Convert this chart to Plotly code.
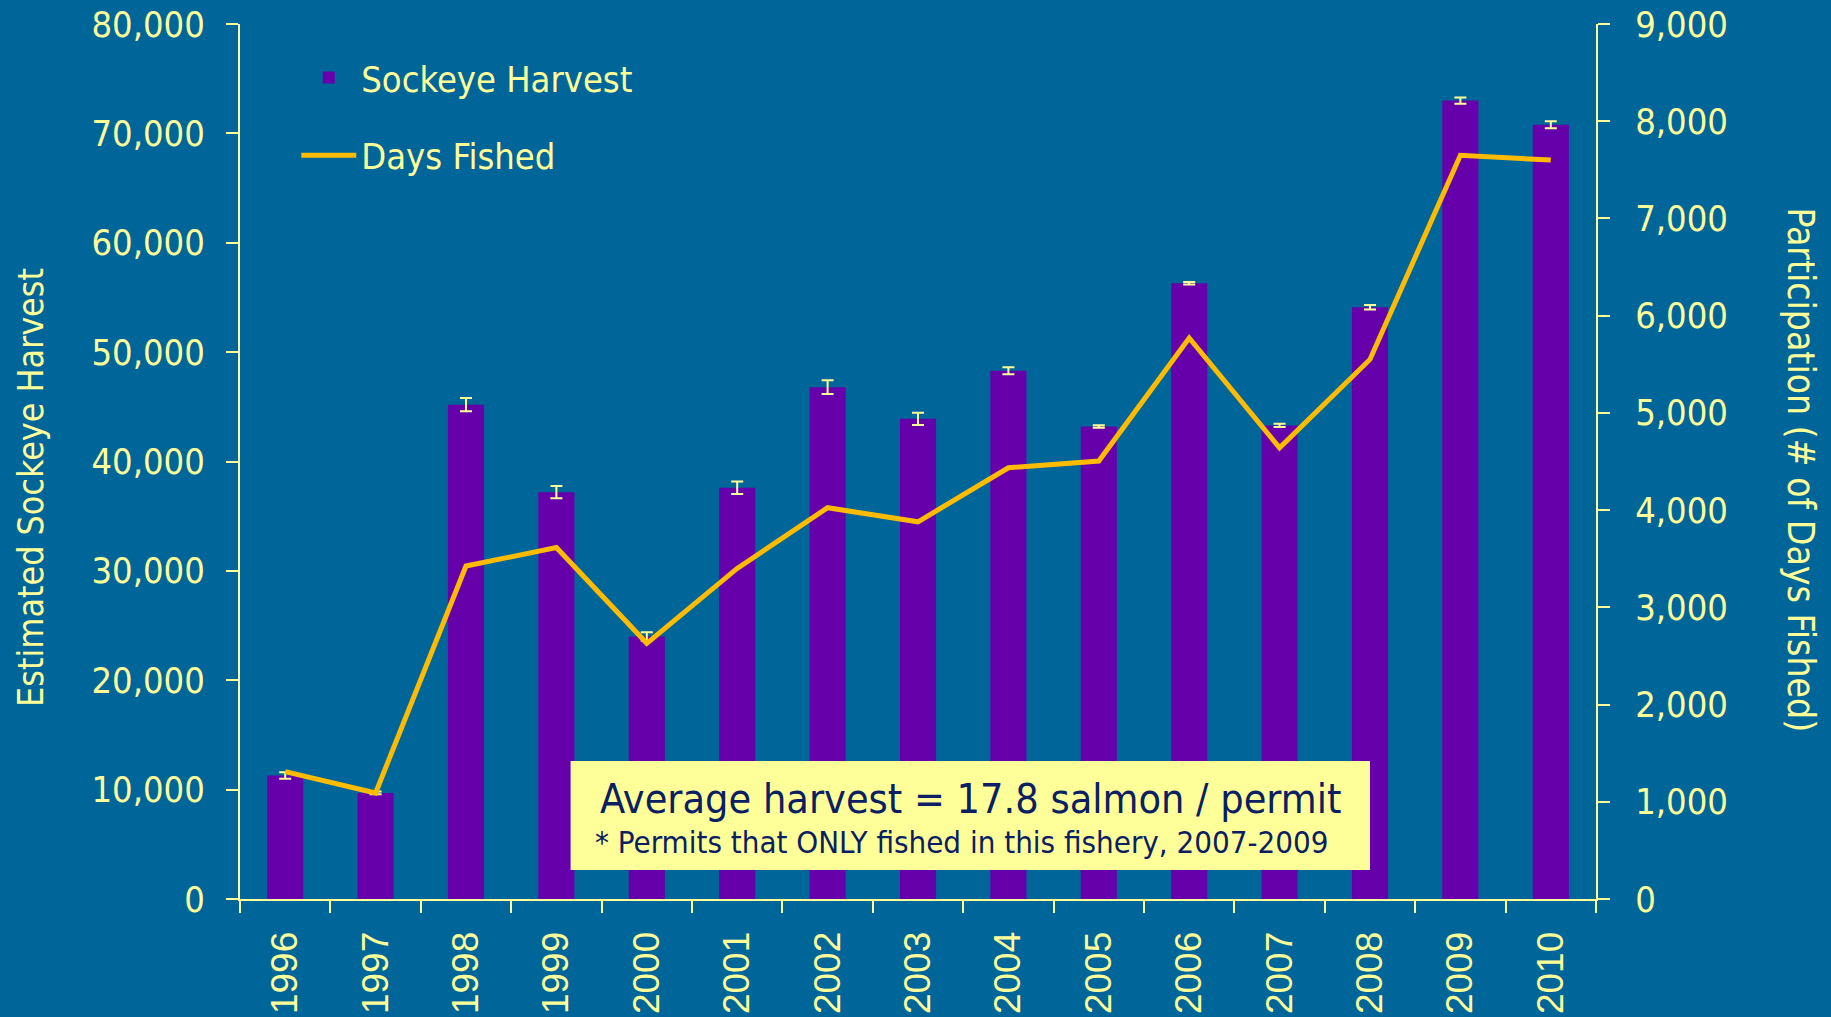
import plotly.graph_objects as go

years = ["1996", "1997", "1998", "1999", "2000", "2001", "2002", "2003",
         "2004", "2005", "2006", "2007", "2008", "2009", "2010"]
harvest = [11300, 9700, 45200, 37200, 24000, 37600, 46800, 43900,
           48300, 43200, 56300, 43300, 54100, 73000, 70800]
harvest_err = [300, 120, 600, 550, 380, 580, 620, 560,
               320, 120, 120, 150, 200, 280, 320]
days_fished = [1310, 1090, 3425, 3615, 2630, 3400, 4025, 3880,
               4435, 4505, 5770, 4640, 5550, 7650, 7600]

BG = "#006699"
TXT = "#FFFF99"
BAR = "#6600AA"
LINE = "#FFBB00"
FONT = "Tahoma, 'DejaVu Sans Condensed', 'DejaVu Sans', sans-serif"

fig = go.Figure()
fig.add_trace(go.Bar(
    x=years, y=harvest, name="Sockeye Harvest", marker_color=BAR,
    marker_line_width=0, legendgroup="a",
    error_y=dict(type="data", array=harvest_err, visible=True,
                 color=TXT, thickness=2, width=6),
))
fig.add_trace(go.Scatter(
    x=years, y=days_fished, name="Days Fished", mode="lines",
    line=dict(color=LINE, width=5), yaxis="y2", legendgroup="b",
))

axis_common = dict(showgrid=False, zeroline=False, showline=True,
                   linecolor=TXT, linewidth=2, ticks="outside",
                   ticklen=12, tickwidth=2, tickcolor=TXT,
                   automargin=False)
yfont = dict(family=FONT, size=36, color=TXT)

fig.update_layout(
    width=1831, height=1017,
    margin=dict(l=240, r=235, t=24, b=118),
    paper_bgcolor=BG, plot_bgcolor=BG,
    bargap=0.6,
    font=dict(family=FONT, color=TXT),
    xaxis=dict(type="category", tickson="boundaries", tickangle=-90,
               ticklabelstandoff=16, **axis_common,
               tickfont=dict(family="'Liberation Sans', Arial, sans-serif",
                             size=37, color=TXT)),
    yaxis=dict(range=[0, 80000], dtick=10000, tickformat=",",
               ticklabelstandoff=14, tickfont=yfont, **axis_common),
    yaxis2=dict(range=[0, 9000], dtick=1000, tickformat=",",
                overlaying="y", side="right", ticklabelstandoff=18,
                tickfont=yfont, **axis_common),
    legend=dict(x=0.0415, y=0.973, xanchor="left", yanchor="top",
                bgcolor="rgba(0,0,0,0)", itemwidth=55,
                tracegroupgap=28, traceorder="grouped",
                font=dict(family=FONT, size=36, color=TXT)),
    showlegend=True,
)

# axis titles
fig.add_annotation(text="Estimated Sockeye Harvest", xref="paper", yref="paper",
                   x=-0.154, y=0.47, textangle=-90, showarrow=False,
                   xanchor="center", yanchor="middle",
                   font=dict(family=FONT, size=35.5, color=TXT))
fig.add_annotation(text="Participation (# of Days Fished)", xref="paper", yref="paper",
                   x=1.151, y=0.49, textangle=90, showarrow=False,
                   xanchor="center", yanchor="middle",
                   font=dict(family=FONT, size=37, color=TXT))

# note box
fig.add_shape(type="rect", xref="paper", yref="paper",
              x0=0.2438, x1=0.8333, y0=0.0332, y1=0.1578,
              fillcolor="#FFFF99", line_width=0, layer="above")
fig.add_annotation(text="Average harvest = 17.8 salmon / permit",
                   xref="paper", yref="paper", x=0.5386, y=0.114,
                   showarrow=False, xanchor="center", yanchor="middle",
                   font=dict(family=FONT, size=41, color="#0A2062"))
fig.add_annotation(text="* Permits that ONLY fished in this fishery, 2007-2009",
                   xref="paper", yref="paper", x=0.5325, y=0.065,
                   showarrow=False, xanchor="center", yanchor="middle",
                   font=dict(family=FONT, size=31, color="#0A2062"))

fig.write_html("out.html", config={"displayModeBar": False},
               post_script="document.body.style.margin='0';document.body.style.overflow='hidden';")
